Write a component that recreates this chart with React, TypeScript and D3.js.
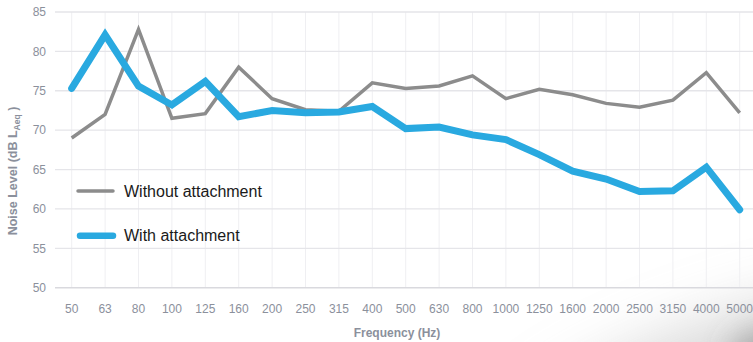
import React from "react";
import * as d3 from "d3";

const categories = ["50","63","80","100","125","160","200","250","315","400","500","630","800","1000","1250","1600","2000","2500","3150","4000","5000"];
const withoutAttachment = [69.0,72.0,82.8,71.5,72.1,78.0,74.0,72.6,72.4,76.0,75.3,75.6,76.9,74.0,75.2,74.5,73.4,72.9,73.8,77.3,72.2];
const withAttachment = [75.3,82.1,75.6,73.2,76.2,71.7,72.5,72.2,72.3,73.0,70.2,70.4,69.4,68.8,66.9,64.8,63.8,62.2,62.3,65.3,59.9];
const yTicks = [50,55,60,65,70,75,80,85];
const seriesNames = ["Without attachment","With attachment"];

const W = 753, H = 342;
const tickFont = "'Liberation Sans Narrow', 'Arial Narrow', 'Liberation Sans', Arial, sans-serif";
const mainFont = "'Liberation Sans', Arial, Helvetica, sans-serif";
const GRAY = "#8c8c8c";
const BLUE = "#29a9e0";
const LABEL = "#8b909c";

export default function App() {
  const x = d3.scalePoint<string>().domain(categories).range([71.7, 739.7]);
  const y = d3.scaleLinear().domain([50, 85]).range([287.7, 12]);
  const line = d3.line<number>().x((_, i) => x(categories[i]) as number).y((d) => y(d)).curve(d3.curveLinear);

  return (
    <svg width={W} height={H} style={{ position: "absolute", left: 0, top: 0, background: "#fff" }}>
      <defs>
        <filter id="blur" x="-50%" y="-50%" width="200%" height="200%">
          <feGaussianBlur stdDeviation="30" />
        </filter>
        <filter id="blur2" x="-50%" y="-50%" width="200%" height="200%">
          <feGaussianBlur stdDeviation="14" />
        </filter>
      </defs>
      <rect x={0} y={0} width={W} height={H} fill="#fff" />
      <g filter="url(#blur)">
        <ellipse cx={740} cy={370} rx={230} ry={55} transform="rotate(-18 740 370)" fill="#a8a8a8" opacity={0.45} />
      </g>
      <g filter="url(#blur2)">
        <ellipse cx={775} cy={355} rx={45} ry={28} fill="#707070" opacity={0.45} />
      </g>
      {/* vertical grid */}
      {categories.map((c) => (
        <line key={"v" + c} x1={x(c)} x2={x(c)} y1={y(85)} y2={y(50)} stroke="#efeff2" strokeWidth={1} />
      ))}
      {/* horizontal grid */}
      {yTicks.map((t) => (
        <line key={"h" + t} x1={55} x2={W} y1={y(t)} y2={y(t)} stroke={t === 50 ? "#d9d9de" : "#e5e5e9"} strokeWidth={t === 50 ? 1.6 : 1.3} />
      ))}
      {/* y tick labels */}
      {yTicks.map((t) => (
        <text key={"yl" + t} x={46} y={y(t)} dy="0.35em" textAnchor="end" fontFamily={tickFont} fontSize={12} fill={LABEL}>
          {t}
        </text>
      ))}
      {/* x tick labels */}
      {categories.map((c) => (
        <text key={"xl" + c} x={x(c)} y={312.5} textAnchor="middle" fontFamily={tickFont} fontSize={12} fill={LABEL}>
          {c}
        </text>
      ))}
      <text x={397} y={337} textAnchor="middle" fontFamily={mainFont} fontWeight="bold" fontSize={12} fill={LABEL}>
        Frequency (Hz)
      </text>
      <text transform="translate(16.5,171) rotate(-90)" textAnchor="middle" fontFamily={mainFont} fontWeight="bold" fontSize={12.5} fill={LABEL}>
        Noise Level (dB L<tspan fontSize={8.5} dy={3}>Aeq</tspan><tspan dy={-3}> )</tspan>
      </text>
      {/* lines */}
      <path d={line(withoutAttachment) || ""} fill="none" stroke={GRAY} strokeWidth={3.5} strokeLinejoin="miter" />
      <path d={line(withAttachment) || ""} fill="none" stroke={BLUE} strokeWidth={7} strokeLinejoin="miter" strokeLinecap="round" />
      {/* legend */}
      <line x1={78} x2={113} y1={191} y2={191} stroke={GRAY} strokeWidth={3.5} strokeLinecap="round" />
      <text x={124} y={196.5} fontFamily={mainFont} fontSize={16} fill="#1a1a1a">{seriesNames[0]}</text>
      <line x1={80} x2={113} y1={235.7} y2={235.7} stroke={BLUE} strokeWidth={6.5} strokeLinecap="round" />
      <text x={124} y={241} fontFamily={mainFont} fontSize={16} fill="#1a1a1a">{seriesNames[1]}</text>
    </svg>
  );
}
